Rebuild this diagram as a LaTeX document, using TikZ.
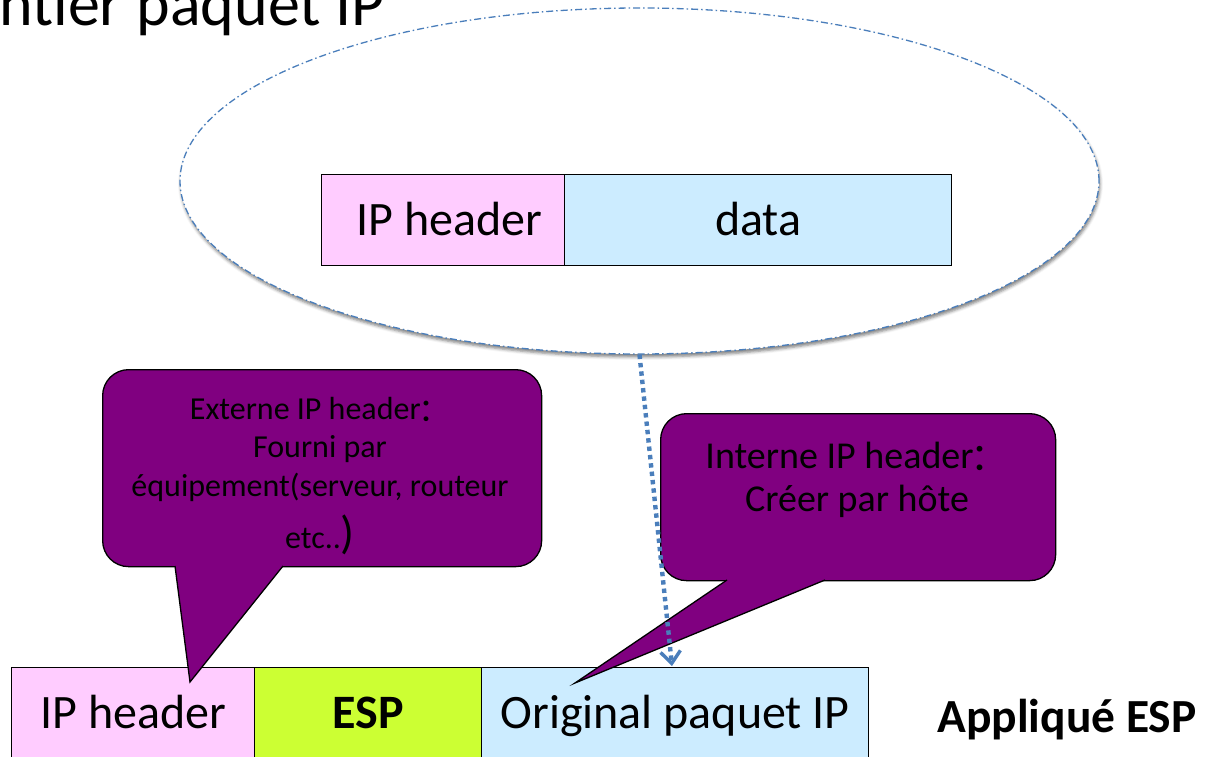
\documentclass[tikz,border=0pt]{standalone}
\usepackage{fontspec}
\setmainfont{Carlito}
\newfontfamily\cjk{Noto Sans CJK SC}
\usetikzlibrary{shapes.geometric,arrows.meta,shadows.blur}

\definecolor{hdrpink}{HTML}{FFCCFF}
\definecolor{datablue}{HTML}{CCECFF}
\definecolor{espgreen}{HTML}{CCFF33}
\definecolor{callpurple}{HTML}{800080}
\definecolor{ovalblue}{HTML}{4A7EBB}

% full-width colon, pulled a little closer and set on the Latin x-height
\newcommand{\fwcolon}{{\kern-0.08em\cjk\raisebox{-0.06em}{：}}}

\begin{document}
\begin{tikzpicture}[x=1pt,y=-1pt,
  field/.style={draw=black, line width=1.3pt, minimum height=91pt, inner sep=0pt,
    anchor=north west, text height=31pt, text depth=0pt,
    font=\fontsize{48}{56}\selectfont},
  callbody/.style={draw=black, line width=1.3pt, fill=callpurple,
    rounded corners=26pt, inner sep=0pt, anchor=north west},
  calltail/.style={fill=callpurple},
  tailedge/.style={draw=black, line width=1.3pt, line join=miter},
  calltext/.style={align=center, inner sep=0pt, text=black},
  flowarrow/.style={draw=ovalblue, line width=4.4pt, dash pattern=on 4.4pt off 4pt,
    -{Straight Barb[length=12pt,width=20pt,line width=3.4pt]}}
]
\useasboundingbox (0,0) rectangle (1210,757);

% heading, partly outside the page
\node[anchor=base east, inner sep=0pt, font=\fontsize{64}{72}\selectfont]
  (heading) at (385,26) {entier paquet IP};

% the whole original packet, circled
\node[ellipse, draw=ovalblue, line width=1.3pt,
  dash pattern=on 7pt off 3pt on 1.5pt off 3pt, fill=white,
  minimum width=919pt, minimum height=346pt, inner sep=0pt,
  blur shadow={shadow xshift=1pt, shadow yshift=-3pt, shadow blur radius=3pt,
    shadow opacity=50}] (oval) at (639.5,181) {};

\node[field, fill=hdrpink, minimum width=243pt] (inhdr) at (321,174)
  {\hspace*{12pt}IP header};
\node[field, fill=datablue, minimum width=387pt] (indata) at (564,174) {data};

% packet after ESP is applied
\node[field, fill=hdrpink, minimum width=243pt] (outhdr) at (11,667) {IP header};
\node[field, fill=espgreen, minimum width=227pt] (esp) at (254,667) {\bfseries ESP};
\node[field, fill=datablue, minimum width=387pt] (orig) at (481,667) {Original paquet IP};

\node[anchor=base, inner sep=0pt, font=\fontsize{47.5}{55}\selectfont\bfseries]
  (applied) at (1067,732) {Appliqué ESP};

% callout: outer header
\node[callbody, minimum width=439pt, minimum height=197pt] (cbout) at (102,369) {};
\fill[calltail] (174.2,560) -- (190,682) -- (287.8,560) -- cycle;
\draw[tailedge] (175,566) -- (190,682) -- (283,566);
\node[calltext, anchor=north, font=\fontsize{32}{38.5}\selectfont] (txout) at (320,397)
  {Externe IP header\fwcolon\\Fourni par\\équipement(serveur, routeur\\[12pt]
   etc..{\fontsize{46}{46}\selectfont )}};

% callout: inner header
\node[callbody, minimum width=395pt, minimum height=167pt] (cbin) at (660,413) {};
\fill[calltail] (735.9,574) -- (575,683) -- (839.6,574) -- cycle;
\draw[tailedge] (727,580) -- (575,683) -- (825,580);
\node[calltext, anchor=north, font=\fontsize{38}{43}\selectfont] (txin) at (857,442)
  {Interne IP header\fwcolon\\ Créer par hôte};

% the original packet is carried inside
\coordinate (landing) at (672,666);
\draw[flowarrow] (oval.south) -- (landing);
\end{tikzpicture}
\end{document}
